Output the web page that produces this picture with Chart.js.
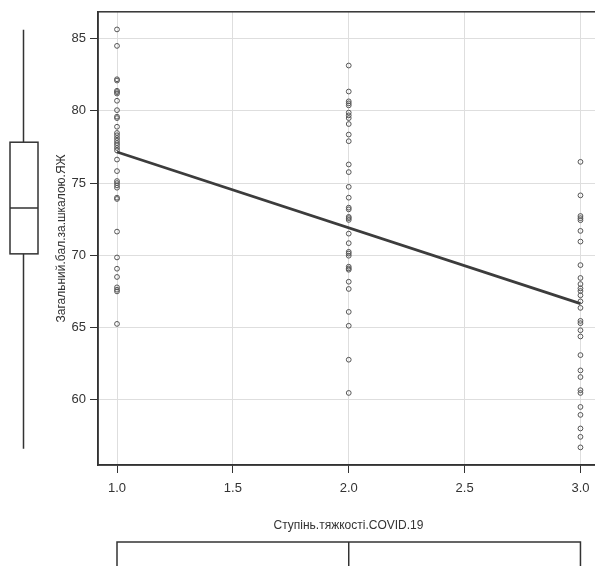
<!DOCTYPE html>
<html>
<head>
<meta charset="utf-8">
<script src="https://cdn.jsdelivr.net/npm/chart.js@4"></script>
<style>
  html, body { margin: 0; padding: 0; background: #fff; overflow: hidden; }
  #wrap { position: absolute; left: 0; top: 0; width: 604px; height: 566px; }
</style>
</head>
<body>
<div id="wrap"><canvas id="scatter"></canvas></div>
<script>
// severity levels and the scores for each level
const severity = [1, 2, 3];
const scoresMild = [85.64, 84.5, 82.19, 82.1, 81.39, 81.3, 81.2, 80.7, 80.05, 79.6, 79.5, 78.9,
  78.47, 78.31, 78.12, 77.94, 77.77, 77.62, 77.43, 77.26, 76.63, 75.83, 75.14, 75.0, 74.84,
  74.68, 73.99, 73.9, 71.64, 69.85, 69.07, 68.5, 67.78, 67.62, 67.5, 65.25];
const scoresModerate = [83.14, 81.34, 80.66, 80.52, 80.38, 79.88, 79.69, 79.5, 79.09, 78.36,
  77.9, 76.29, 75.76, 74.74, 73.99, 73.3, 73.18, 72.66, 72.57, 72.45, 71.5, 70.84, 70.24,
  70.12, 69.97, 69.21, 69.09, 69.0, 68.17, 67.67, 66.08, 65.12, 62.77, 60.47];
const scoresSevere = [76.47, 74.15, 72.72, 72.57, 72.43, 71.69, 70.95, 69.32, 68.43, 68.01,
  67.71, 67.53, 67.23, 66.81, 66.36, 65.46, 65.3, 64.81, 64.38, 63.09, 62.03, 61.57, 60.66,
  60.47, 59.5, 58.95, 58.01, 57.43, 56.7];

// fitted line ends
const fitX = [1, 3];
const fitY = [77.15, 66.65];

// marginal boxplots (min, lower hinge, median, upper hinge, max)
const scoreBox = [56.6, 70.1, 73.28, 77.83, 85.62];
const severityBox = [1, 1, 2, 3, 3];

const xTicks = [1.0, 1.5, 2.0, 2.5, 3.0];
const yTicks = [60, 65, 70, 75, 80, 85];

const groups = [scoresMild, scoresModerate, scoresSevere];
const points = [];
groups.forEach((g, i) => g.forEach(v => points.push({ x: severity[i], y: v })));

const dark = "#333";

const marginBoxes = {
  id: "marginBoxes",
  afterDraw(chart) {
    const { ctx, chartArea: a, scales: { x, y } } = chart;
    ctx.save();
    ctx.strokeStyle = dark;
    ctx.lineWidth = 1.5;

    // frame round the plot
    ctx.strokeRect(a.left, a.top, a.right - a.left, a.bottom - a.top);

    // boxplot of the scores, left margin
    const fy = scoreBox.map(v => y.getPixelForValue(v));
    const bx0 = 10, bx1 = 38, bxm = 23.5;
    ctx.beginPath();
    ctx.moveTo(bxm, fy[0]); ctx.lineTo(bxm, fy[1]);
    ctx.moveTo(bxm, fy[3]); ctx.lineTo(bxm, fy[4]);
    ctx.moveTo(bx0, fy[2]); ctx.lineTo(bx1, fy[2]);
    ctx.stroke();
    ctx.strokeRect(bx0, fy[3], bx1 - bx0, fy[1] - fy[3]);

    // boxplot of severity, bottom margin
    const fx = severityBox.map(v => x.getPixelForValue(v));
    const by0 = 542, by1 = 600, bym = 571;
    ctx.beginPath();
    ctx.moveTo(fx[0], bym); ctx.lineTo(fx[1], bym);
    ctx.moveTo(fx[3], bym); ctx.lineTo(fx[4], bym);
    ctx.moveTo(fx[2], by0); ctx.lineTo(fx[2], by1);
    ctx.stroke();
    ctx.strokeRect(fx[1], by0, fx[3] - fx[1], by1 - by0);
    ctx.restore();
  }
};

Chart.defaults.font.family = "'Liberation Sans', Arial, sans-serif";
Chart.defaults.color = dark;

new Chart(document.getElementById("scatter").getContext("2d"), {
  type: "scatter",
  data: {
    datasets: [
      {
        label: "fit",
        type: "line",
        data: fitX.map((v, i) => ({ x: v, y: fitY[i] })),
        borderColor: "#3c3c3c",
        borderWidth: 2.8,
        pointRadius: 0,
        fill: false
      },
      {
        label: "scores",
        data: points,
        pointRadius: 2.4,
        pointBorderWidth: 1,
        pointBorderColor: "#555",
        pointBackgroundColor: "rgba(0,0,0,0)"
      }
    ]
  },
  options: {
    responsive: true,
    maintainAspectRatio: false,
    animation: false,
    layout: { padding: { top: 10, right: 2.5, left: 0, bottom: 0 } },
    plugins: { legend: { display: false }, tooltip: { enabled: false } },
    scales: {
      x: {
        type: "linear",
        min: 0.918,
        max: 3.08,
        afterBuildTicks: axis => { axis.ticks = xTicks.map(v => ({ value: v })); },
        afterFit: axis => { axis.height = 101; },
        ticks: { callback: v => v.toFixed(1), padding: 8, font: { size: 13 }, maxRotation: 0 },
        grid: { color: "#dedede", tickColor: dark, tickLength: 8, lineWidth: 1 },
        border: { color: dark, width: 1.5 },
        title: {
          display: true,
          text: "Ступінь.тяжкості.COVID.19",
          font: { size: 12 },
          padding: { top: 0, bottom: 33 }
        }
      },
      y: {
        type: "linear",
        min: 55.48,
        max: 86.86,
        afterBuildTicks: axis => { axis.ticks = yTicks.map(v => ({ value: v })); },
        afterFit: axis => { axis.width = 98; },
        ticks: { callback: v => String(v), padding: 4, font: { size: 13 } },
        grid: { color: "#dedede", tickColor: dark, tickLength: 8, lineWidth: 1 },
        border: { color: dark, width: 1.5 },
        title: {
          display: true,
          text: "Загальний.бал.за.шкалою.ЯЖ",
          font: { size: 12 },
          padding: { top: 54, bottom: 0 }
        }
      }
    }
  },
  plugins: [marginBoxes]
});
</script>
</body>
</html>
